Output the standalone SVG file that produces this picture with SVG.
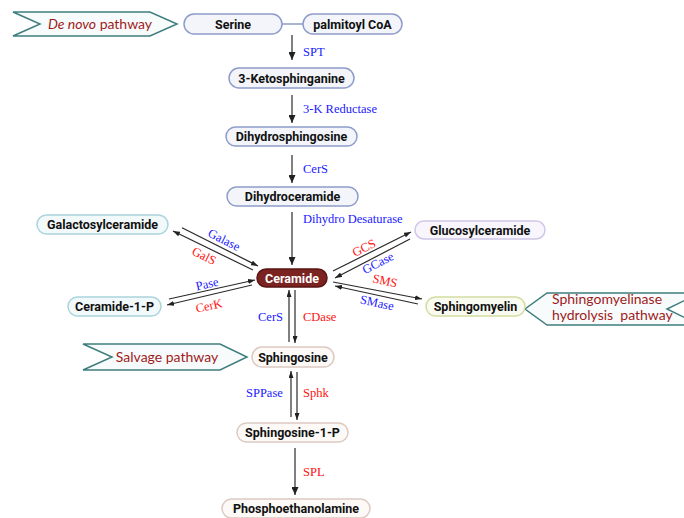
<svg xmlns="http://www.w3.org/2000/svg" width="684" height="518" viewBox="0 0 684 518">
<defs>
<marker id="ah" viewBox="0 0 8 7" refX="8" refY="3.5" markerWidth="8" markerHeight="7" markerUnits="userSpaceOnUse" orient="auto"><path d="M0,0 L8,3.5 L0,7 z" fill="#222"/></marker>
<marker id="as" viewBox="0 0 7 5" refX="7" refY="2.5" markerWidth="7" markerHeight="5" markerUnits="userSpaceOnUse" orient="auto"><path d="M0,0 L7,2.5 L0,5 z" fill="#222"/></marker>
<style>
.n{stroke-width:1.5}
.b{stroke:#8e9cc9;fill:#f3f5fb}
.t{stroke:#abd4dc;fill:#f2f9fb}
.l{stroke:#cfc6e8;fill:#f8f6fc}
.o{stroke:#d3dca0;fill:#fafbf0}
.p{stroke:#dccac2;fill:#fcf9f7}
.lab{font-family:Roboto,"Liberation Sans",sans-serif;font-weight:bold;font-size:12.5px;fill:#111;text-anchor:middle}
.e{font-family:"Liberation Serif","DejaVu Serif",serif;font-size:12.5px}
.bl{fill:#1a1aff}
.rd{fill:#ff1010}
.ban{fill:#f8fbfb;stroke:#3f7d7d;stroke-width:1.5}
.bt{font-family:Lato,"Open Sans","Liberation Sans",sans-serif;font-size:14px;fill:#9e1b1b}
.c line{stroke:#2a2a2a;stroke-width:1.2}
</style>
</defs>

<g id="banner-denovo">
<polygon class="ban" points="13,12 150,12 177,24 150,36 13,36 40,24"/>
<text class="bt" x="100" y="29" text-anchor="middle"><tspan font-style="italic">De novo</tspan> pathway</text>
</g>
<g id="banner-salvage">
<polygon class="ban" points="83,344 220,344 247,357 220,370 83,370 112,357"/>
<text class="bt" x="167" y="362" text-anchor="middle">Salvage pathway</text>
</g>
<g id="banner-sm">
<polygon class="ban" points="547,293 700,293 667,309 700,325 547,325 525,309"/>
<text class="bt" x="552" y="304">Sphingomyelinase</text>
<text class="bt" x="552" y="320" xml:space="preserve">hydrolysis  pathway</text>
</g>

<g class="c" id="connectors">
<line x1="282" y1="24" x2="303" y2="24" style="stroke:#8e9cc9;stroke-width:1.5"/>
<line x1="292" y1="35" x2="292" y2="60" marker-end="url(#ah)"/>
<line x1="292" y1="95" x2="292" y2="123" marker-end="url(#ah)"/>
<line x1="292" y1="155" x2="292" y2="183" marker-end="url(#ah)"/>
<line x1="292" y1="212" x2="292" y2="265" marker-end="url(#ah)"/>
<line x1="182" y1="227.7" x2="258" y2="266" marker-end="url(#as)"/>
<line x1="253" y1="270" x2="173" y2="231" marker-end="url(#as)"/>
<line x1="169" y1="299" x2="255" y2="280" marker-end="url(#as)"/>
<line x1="252" y1="285" x2="167" y2="305" marker-end="url(#as)"/>
<line x1="333" y1="271" x2="411" y2="232" marker-end="url(#as)"/>
<line x1="410" y1="239" x2="335" y2="278" marker-end="url(#as)"/>
<line x1="333" y1="282" x2="422" y2="299" marker-end="url(#as)"/>
<line x1="418" y1="304" x2="335" y2="286" marker-end="url(#as)"/>
<line x1="289" y1="342" x2="289" y2="290" marker-end="url(#as)"/>
<line x1="295" y1="290" x2="295" y2="343" marker-end="url(#as)"/>
<line x1="291" y1="417" x2="291" y2="371" marker-end="url(#as)"/>
<line x1="297" y1="372" x2="297" y2="420" marker-end="url(#as)"/>
<line x1="295" y1="448" x2="295" y2="495" marker-end="url(#ah)"/>
</g>

<g id="enzymes">
<text class="e bl" x="303" y="56">SPT</text>
<text class="e bl" x="303" y="113">3-K Reductase</text>
<text class="e bl" x="303" y="173">CerS</text>
<text class="e bl" x="303" y="223">Dihydro Desaturase</text>
<text class="e bl" text-anchor="middle" transform="translate(224,240) rotate(27)" y="4">Galase</text>
<text class="e rd" text-anchor="middle" transform="translate(204,256) rotate(27)" y="4">GalS</text>
<text class="e bl" text-anchor="middle" transform="translate(207,284) rotate(-12.5)" y="4">Pase</text>
<text class="e rd" text-anchor="middle" transform="translate(209,306) rotate(-12.5)" y="4">CerK</text>
<text class="e rd" text-anchor="middle" transform="translate(364,248) rotate(-27)" y="4">GCS</text>
<text class="e bl" text-anchor="middle" transform="translate(378,263) rotate(-27)" y="4">GCase</text>
<text class="e rd" text-anchor="middle" transform="translate(385,281) rotate(12)" y="4">SMS</text>
<text class="e bl" text-anchor="middle" transform="translate(377,303) rotate(12)" y="4">SMase</text>
<text class="e bl" x="258" y="321">CerS</text>
<text class="e rd" x="303" y="321">CDase</text>
<text class="e bl" x="246" y="397">SPPase</text>
<text class="e rd" x="303" y="397">Sphk</text>
<text class="e rd" x="303" y="476">SPL</text>
</g>

<g id="serine"><rect class="n b" x="184" y="14" width="98" height="20" rx="10"/><text class="lab" x="233" y="28.5">Serine</text></g>
<g id="palmitoyl"><rect class="n b" x="303" y="14" width="99" height="20" rx="10"/><text class="lab" x="352.5" y="28.5">palmitoyl CoA</text></g>
<g id="ketosphinganine"><rect class="n b" x="229" y="68" width="125" height="20" rx="10"/><text class="lab" x="291.5" y="82.5">3-Ketosphinganine</text></g>
<g id="dihydrosphingosine"><rect class="n b" x="226" y="127" width="131" height="19" rx="9.5"/><text class="lab" x="291.5" y="141">Dihydrosphingosine</text></g>
<g id="dihydroceramide"><rect class="n b" x="227" y="187" width="131" height="19" rx="9.5"/><text class="lab" x="292.5" y="201">Dihydroceramide</text></g>
<g id="galactosylceramide"><rect class="n t" x="37" y="215" width="131" height="19" rx="9.5"/><text class="lab" x="102.5" y="229">Galactosylceramide</text></g>
<g id="glucosylceramide"><rect class="n l" x="415" y="221" width="130" height="18" rx="9"/><text class="lab" x="480" y="234.5">Glucosylceramide</text></g>
<g id="ceramide"><rect x="257" y="269" width="70" height="18" rx="9" fill="#7b2321" stroke="#5a1515" stroke-width="1.5"/><text class="lab" x="292" y="282.5" style="fill:#fff">Ceramide</text></g>
<g id="ceramide1p"><rect class="n t" x="68" y="297" width="93" height="19" rx="9.5"/><text class="lab" x="114.5" y="311">Ceramide-1-P</text></g>
<g id="sphingomyelin"><rect class="n o" x="426" y="297" width="99" height="19" rx="9.5"/><text class="lab" x="475.5" y="311">Sphingomyelin</text></g>
<g id="sphingosine"><rect class="n p" x="252" y="347" width="82" height="20" rx="10"/><text class="lab" x="293" y="361.5">Sphingosine</text></g>
<g id="s1p"><rect class="n p" x="237" y="423" width="111" height="19" rx="9.5"/><text class="lab" x="292.5" y="437">Sphingosine-1-P</text></g>
<g id="phosphoethanolamine"><rect class="n p" x="222" y="499" width="148" height="19" rx="9.5"/><text class="lab" x="296" y="513">Phosphoethanolamine</text></g>
</svg>
